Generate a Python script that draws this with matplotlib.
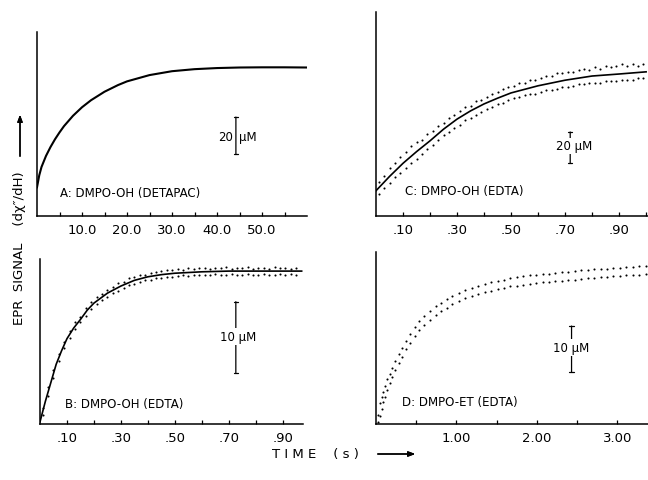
"""EPR spin-adduct kinetics: four panels (A-D), signal vs time."""

import matplotlib
matplotlib.use("Agg")
import matplotlib.pyplot as plt

# ---- panel A: DMPO-OH (DETAPAC), smooth trace only (y in uM above baseline)
a_t = [0, 0.5, 1, 2, 3, 4, 5, 6, 8, 10, 12, 15, 18, 20, 25, 30, 35, 40, 45, 50, 55, 60]
a_y = [15.5, 22, 26.5, 32.5, 37.3, 41.5, 45.2, 48.6, 54.2, 58.8, 62.6, 67.2, 70.8,
       72.8, 76.2, 78.3, 79.4, 80, 80.3, 80.4, 80.4, 80.3]

# ---- panel B: DMPO-OH (EDTA), fitted line + scatter band edges
b_t = [0, 0.02, 0.04, 0.06, 0.08, 0.1, 0.125, 0.15, 0.175, 0.2, 0.25, 0.3, 0.35,
       0.4, 0.45, 0.5, 0.6, 0.7, 0.8, 0.97]
b_y = [0.3, 3.2, 5.8, 8.4, 10.3, 12.0, 13.5, 14.7, 16.0, 17.0, 18.4, 19.4, 20.2,
       20.7, 21.0, 21.2, 21.4, 21.5, 21.5, 21.5]
b_dot_t = [0.01, 0.03, 0.05, 0.07, 0.09, 0.11, 0.13, 0.15, 0.17, 0.19, 0.21, 0.23,
           0.25, 0.27, 0.29, 0.31, 0.33, 0.35, 0.37, 0.39, 0.41, 0.43, 0.45, 0.47,
           0.49, 0.51, 0.53, 0.55, 0.57, 0.59, 0.61, 0.63, 0.65, 0.67, 0.69, 0.71,
           0.73, 0.75, 0.77, 0.79, 0.81, 0.83, 0.85, 0.87, 0.89, 0.91, 0.93, 0.95]
b_dot_hi = [2.3, 5.2, 7.6, 9.8, 11.6, 13.1, 14.4, 15.1, 16.3, 17.1, 17.9, 18.3,
            18.9, 19.3, 19.8, 20.0, 20.5, 20.6, 21.0, 21.0, 21.3, 21.4, 21.5, 21.7,
            21.6, 21.8, 21.7, 21.9, 21.8, 22.0, 21.9, 21.8, 22.0, 21.9, 22.1, 21.8,
            22.0, 21.9, 22.1, 21.8, 22.0, 21.9, 21.8, 22.1, 21.9, 22.0, 21.8, 22.0]
b_dot_lo = [1.2, 3.9, 6.5, 8.8, 10.7, 12.1, 13.3, 14.3, 15.2, 16.1, 16.9, 17.5,
            17.9, 18.4, 18.7, 19.1, 19.5, 19.7, 19.9, 20.2, 20.3, 20.5, 20.5, 20.7,
            20.7, 20.8, 20.9, 20.8, 21.0, 20.9, 21.0, 20.9, 21.1, 20.9, 21.0, 21.1,
            20.9, 21.0, 21.1, 20.9, 21.0, 21.1, 21.0, 20.9, 21.1, 21.0, 21.1, 20.9]

# ---- panel C: DMPO-OH (EDTA), fitted line + wider scatter band
c_t = [0, 0.05, 0.1, 0.15, 0.2, 0.25, 0.3, 0.35, 0.4, 0.45, 0.5, 0.6, 0.7, 0.8, 0.9, 1.0]
c_y = [16.3, 25.5, 34, 41.5, 48.5, 56, 62.5, 67.8, 72.3, 76, 79.4, 84, 87.6, 90.3,
       91.6, 93]
c_dot_t = [0.01, 0.03, 0.05, 0.07, 0.09, 0.11, 0.13, 0.15, 0.17, 0.19, 0.21, 0.23,
           0.25, 0.27, 0.29, 0.31, 0.33, 0.35, 0.37, 0.39, 0.41, 0.43, 0.45, 0.47,
           0.49, 0.51, 0.53, 0.55, 0.57, 0.59, 0.61, 0.63, 0.65, 0.67, 0.69, 0.71,
           0.73, 0.75, 0.77, 0.79, 0.81, 0.83, 0.85, 0.87, 0.89, 0.91, 0.93, 0.95,
           0.97, 0.99]
c_dot_hi = [22, 26, 31, 34, 38, 41, 45, 48, 49, 53, 55, 58, 60, 63, 65, 68, 70, 71,
            74, 75, 77, 79, 80, 82, 83, 84, 86, 86, 88, 88, 89, 90, 90, 92, 92, 93,
            93, 94, 95, 94, 96, 95, 97, 96, 97, 98, 97, 98, 97, 98]
c_dot_lo = [14, 18, 21, 25, 28, 31, 34, 37, 40, 43, 46, 49, 52, 54, 57, 59, 62, 63,
            65, 67, 69, 70, 72, 73, 75, 76, 77, 78, 79, 79, 80, 81, 81, 82, 83, 83,
            84, 85, 85, 86, 86, 86, 87, 87, 87, 88, 88, 88, 89, 89]

# ---- panel D: DMPO-ET (EDTA), scatter only
d_dot_t = [0.03, 0.05, 0.07, 0.09, 0.11, 0.14, 0.17, 0.20, 0.24, 0.28, 0.32, 0.37,
           0.42, 0.48, 0.54, 0.60, 0.67, 0.74, 0.81, 0.88, 0.95, 1.03, 1.11, 1.19,
           1.27, 1.35, 1.43, 1.51, 1.59, 1.67, 1.75, 1.83, 1.91, 1.99, 2.07, 2.15,
           2.23, 2.31, 2.39, 2.47, 2.55, 2.63, 2.71, 2.79, 2.87, 2.95, 3.03, 3.11,
           3.19, 3.27, 3.35]
d_dot_hi = [2.0, 4.5, 5.8, 7.0, 8.2, 9.7, 10.9, 12.2, 13.8, 15.3, 16.6, 18.1, 19.5,
            21.1, 22.4, 23.4, 24.5, 25.6, 26.4, 27.1, 27.8, 28.5, 29.1, 29.6, 30.0,
            30.4, 30.8, 31.1, 31.4, 31.7, 31.9, 32.1, 32.3, 32.4, 32.6, 32.7, 32.9,
            33.0, 33.1, 33.2, 33.4, 33.5, 33.6, 33.7, 33.8, 33.9, 34.0, 34.1, 34.2,
            34.3, 34.4]
d_dot_lo = [0.5, 1.8, 3.3, 4.7, 5.9, 7.5, 8.9, 10.2, 11.8, 13.3, 14.6, 16.2, 17.6,
            19.2, 20.5, 21.5, 22.6, 23.7, 24.6, 25.3, 26.0, 26.8, 27.3, 27.8, 28.2,
            28.6, 29.0, 29.3, 29.6, 29.9, 30.1, 30.3, 30.5, 30.6, 30.8, 30.9, 31.1,
            31.2, 31.3, 31.4, 31.6, 31.7, 31.8, 31.9, 32.0, 32.1, 32.2, 32.3, 32.4,
            32.5, 32.6]

W, H = 648, 481


def px_axes(fig, left, top, right, bottom):
    """Add axes from pixel edges (origin top-left)."""
    return fig.add_axes([left / W, 1 - bottom / H, (right - left) / W, (bottom - top) / H])


def style(ax, xlim, ylim, major, labels, minor):
    ax.set_xlim(*xlim)
    ax.set_ylim(*ylim)
    for s in ("top", "right"):
        ax.spines[s].set_visible(False)
    for s in ("left", "bottom"):
        ax.spines[s].set_linewidth(1.1)
    ax.set_yticks([])
    ax.set_xticks(major)
    ax.set_xticklabels(labels)
    ax.set_xticks(minor, minor=True)
    ax.tick_params(axis="x", which="both", direction="in", length=3, width=0.9,
                   labelsize=9.5, pad=5)
    ax.set_facecolor("none")


def scale_bar(ax, x, y0, y1):
    ax.annotate("", xy=(x, y1), xytext=(x, y0),
                arrowprops=dict(arrowstyle="|-|,widthA=0.15,widthB=0.15", lw=0.9,
                                color="black", shrinkA=0, shrinkB=0))


def dots(ax, t, y):
    ax.plot(t, y, ls="none", marker="o", ms=1.5, color="black", mec="none")


fig = plt.figure(figsize=(W / 100, H / 100), dpi=100)
fs = 8.5

# A
ax = px_axes(fig, 37, 33, 307, 217)
style(ax, (0, 60), (0, 99.5), [10, 20, 30, 40, 50],
      ["10.0", "20.0", "30.0", "40.0", "50.0"], [5, 15, 25, 35, 45, 55])
ax.plot(a_t, a_y, color="black", lw=1.5)
scale_bar(ax, 44.2, 33.5, 53.5)
ax.text(43.6, 43.2, "20", ha="right", va="center", fontsize=fs)
ax.text(44.8, 43.2, "\u03bcM", ha="left", va="center", fontsize=fs)
ax.text(0.085, 0.13, "A: DMPO-OH (DETAPAC)", transform=ax.transAxes,
        ha="left", va="center", fontsize=fs)

# B
ax = px_axes(fig, 40, 260, 303, 425)
style(ax, (0, 0.975), (0, 23.2), [0.1, 0.3, 0.5, 0.7, 0.9],
      [".10", ".30", ".50", ".70", ".90"], [0.2, 0.4, 0.6, 0.8])
dots(ax, b_dot_t, b_dot_hi)
dots(ax, b_dot_t, b_dot_lo)
ax.plot(b_t, b_y, color="black", lw=1.2)
scale_bar(ax, 0.726, 7.2, 17.2)
ax.text(0.736, 12.3, "10 \u03bcM", ha="center", va="center", fontsize=fs,
        bbox=dict(fc="white", ec="none", pad=1.5))
ax.text(0.095, 0.127, "B: DMPO-OH (EDTA)", transform=ax.transAxes,
        ha="left", va="center", fontsize=fs)

# C
ax = px_axes(fig, 376, 13, 648, 217)
style(ax, (0, 1.007), (0, 131.6), [0.1, 0.3, 0.5, 0.7, 0.9],
      [".10", ".30", ".50", ".70", ".90"], [0.2, 0.4, 0.6, 0.8, 1.0])
dots(ax, c_dot_t, c_dot_hi)
dots(ax, c_dot_t, c_dot_lo)
ax.plot(c_t, c_y, color="black", lw=1.2)
scale_bar(ax, 0.719, 34.2, 54.2)
ax.text(0.735, 45.2, "20 \u03bcM", ha="center", va="center", fontsize=fs,
        bbox=dict(fc="white", ec="none", pad=1.0))
ax.text(0.107, 0.123, "C: DMPO-OH (EDTA)", transform=ax.transAxes,
        ha="left", va="center", fontsize=fs)

# D
ax = px_axes(fig, 376, 253, 648, 425)
style(ax, (0, 3.38), (0, 37.4), [1, 2, 3], ["1.00", "2.00", "3.00"], [0.5, 1.5, 2.5])
dots(ax, d_dot_t, d_dot_hi)
dots(ax, d_dot_t, d_dot_lo)
scale_bar(ax, 2.43, 11.3, 21.3)
ax.text(2.43, 16.7, "10 \u03bcM", ha="center", va="center", fontsize=fs,
        bbox=dict(fc="white", ec="none", pad=1.5))
ax.text(0.096, 0.128, "D: DMPO-ET (EDTA)", transform=ax.transAxes,
        ha="left", va="center", fontsize=fs)

# shared axis titles
fig.text(20 / W, 1 - 248 / H, "EPR  SIGNAL    (d\u03c7\u2033/dH)", rotation=90,
         ha="center", va="center", fontsize=9.5)
fig.add_artist(plt.annotate("", xy=(20 / W, 1 - 113 / H), xytext=(20 / W, 1 - 160 / H),
                            xycoords="figure fraction",
                            arrowprops=dict(arrowstyle="-|>,head_width=0.15,head_length=0.4",
                                            lw=1.0, color="black")))
fig.text(272 / W, 1 - 455 / H, "T I M E    ( s )", ha="left", va="center", fontsize=9.5)
fig.add_artist(plt.annotate("", xy=(418 / W, 1 - 455 / H), xytext=(375 / W, 1 - 455 / H),
                            xycoords="figure fraction",
                            arrowprops=dict(arrowstyle="-|>,head_width=0.15,head_length=0.4",
                                            lw=1.0, color="black")))

fig.savefig("out.png", dpi=100)
